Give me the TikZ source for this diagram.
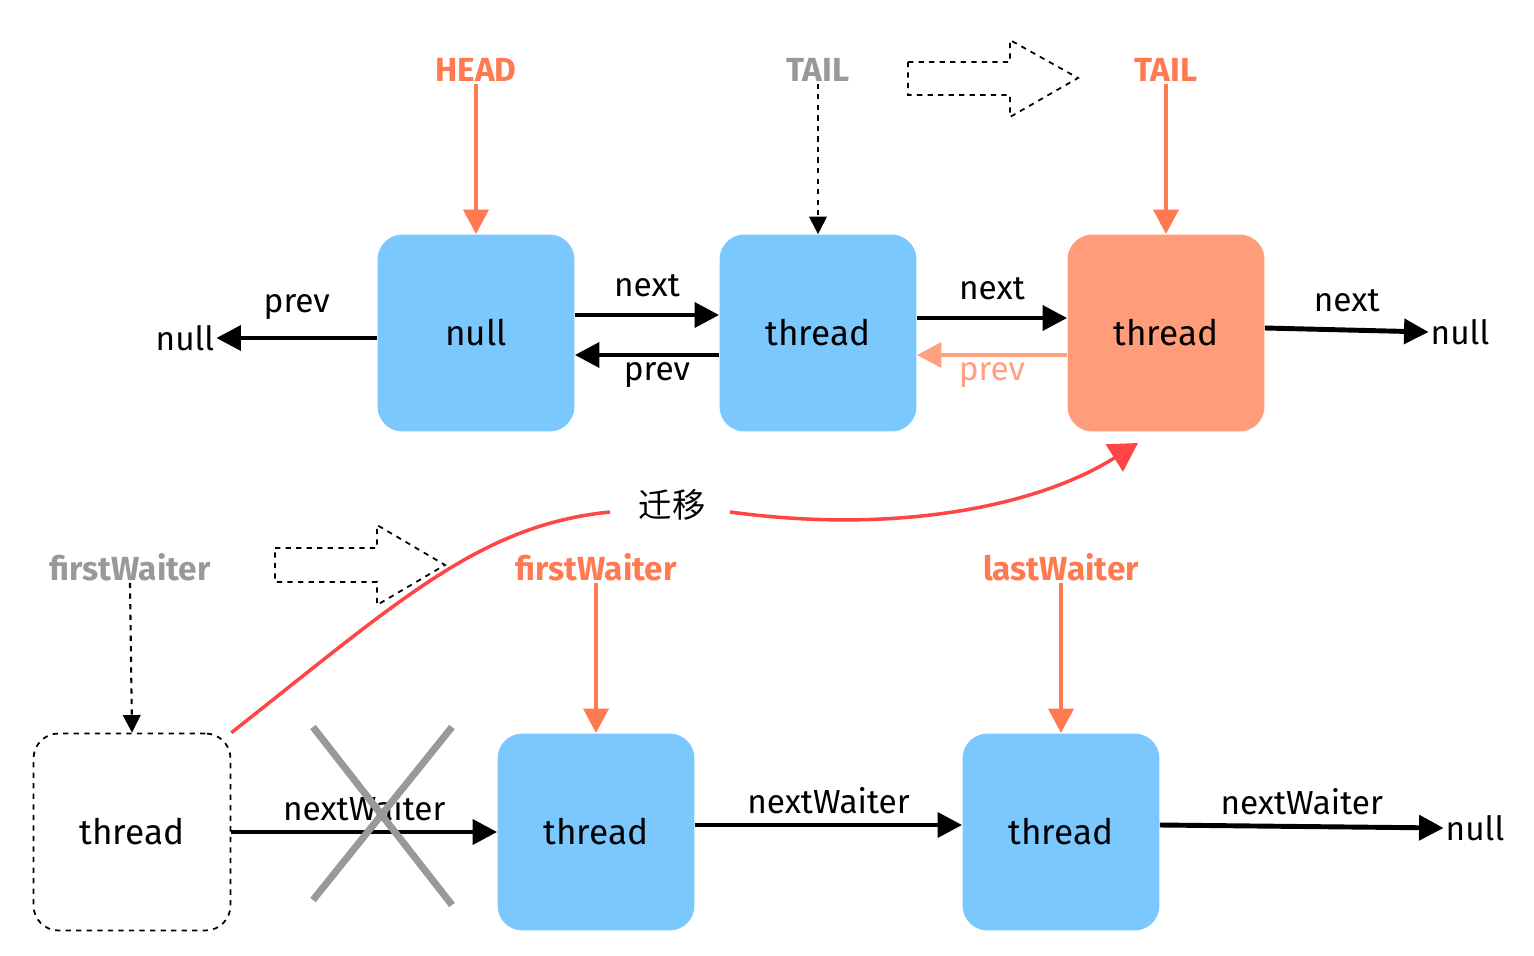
\documentclass[tikz,border=0pt]{standalone}
\usepackage{fontspec}
\setmainfont{Fira Sans}
\newfontfamily\cjk{Noto Sans CJK SC}
\usetikzlibrary{arrows.meta}
\definecolor{boxblue}{HTML}{7AC8FD}
\definecolor{boxorange}{HTML}{FF9D7A}
\definecolor{ptrorange}{HTML}{FF7A50}
\definecolor{migred}{HTML}{FF4545}
\definecolor{lightorange}{HTML}{FFA080}
\tikzset{>={Triangle[length=14pt,width=14pt]}}
\tikzset{box/.style = {rounded corners=0.5cm,minimum size=3.94cm,inner sep=0pt,font=\fontsize{20}{24}\selectfont}}
\tikzset{lbl/.style = {font=\fontsize{19}{22}\selectfont,inner sep=1pt}}
\tikzset{ptr/.style = {font=\bfseries\fontsize{19}{22}\selectfont,inner sep=1pt}}
\tikzset{link/.style = {line width=2.8pt,->}}
\tikzset{hollow/.style = {dashed,line width=1pt}}
\begin{document}
\begin{tikzpicture}[x=0.02cm,y=-0.02cm]
                    \useasboundingbox (0,0) rectangle (1534,956);
                    % upper queue
                    \node[box,fill=boxblue] (N0) at (476,333) {null};
                    \node[box,fill=boxblue] (N1) at (818,333) {thread};
                    \node[box,fill=boxorange] (N2) at (1166,333) {thread};
                    \node[lbl] (nullL) at (185,338) {null};
                    \node[lbl] (nullR) at (1460,332) {null};
                    \node[ptr,text=ptrorange] (head) at (476,70) {HEAD};
                    \node[ptr,text=gray!80] (oldtail) at (818,70) {TAIL};
                    \node[ptr,text=ptrorange] (tail) at (1166,70) {TAIL};

                    \draw[link,ptrorange] (head.south) -- (N0.north);
                    \draw[->,dashed,line width=1.2pt,>={Triangle[length=10pt,width=10pt]}] (oldtail.south) -- (N1.north);
                    \draw[link,ptrorange] (tail.south) -- (N2.north);

                    \draw[link] (N0.west |- nullL.east) -- node[lbl,above=8pt] {prev} (nullL.east);
                    \draw[link] ([yshift=0.36cm]N0.east) -- node[lbl,above=8pt] {next} ([yshift=0.36cm]N1.west);
                    \draw[link] ([yshift=-0.44cm]N1.west) -- node[lbl,below=2pt,xshift=0.2cm] {prev} ([yshift=-0.44cm]N0.east);
                    \draw[link] ([yshift=0.3cm]N1.east) -- node[lbl,above=8pt] {next} ([yshift=0.3cm]N2.west);
                    \draw[link,lightorange] ([yshift=-0.44cm]N2.west) -- node[lbl,below=2pt,text=lightorange] {prev} ([yshift=-0.44cm]N1.east);
                    \draw[link] ([yshift=0.1cm]N2.east) -- node[lbl,above=8pt] {next} (nullR.west);

                    \draw[hollow] (908,62) -- (1010,62) -- (1010,40) -- (1078,78) -- (1010,117) -- (1010,95) -- (908,95) -- cycle;

                    % condition queue
                    \node[box,draw,hollow] (W0) at (132,832) {thread};
                    \node[box,fill=boxblue] (W1) at (596,832) {thread};
                    \node[box,fill=boxblue] (W2) at (1061,832) {thread};
                    \node[lbl] (nullW) at (1475,828) {null};
                    \node[ptr,text=gray!80] (oldfirst) at (130,567) {firstWaiter};
                    \node[ptr,text=ptrorange] (first) at (596,567) {firstWaiter};
                    \node[ptr,text=ptrorange] (last) at (1061,567) {lastWaiter};

                    \draw[->,dashed,line width=1.2pt,>={Triangle[length=10pt,width=10pt]}] (oldfirst.south) -- (W0.north);
                    \draw[link,ptrorange] (first.south) -- (W1.north);
                    \draw[link,ptrorange] (last.south) -- (W2.north);

                    \draw[link] (W0.east) -- node[lbl,above=4pt] {nextWaiter} (W1.west);
                    \draw[link] ([yshift=0.14cm]W1.east) -- node[lbl,above=4pt] {nextWaiter} ([yshift=0.14cm]W2.west);
                    \draw[link] ([yshift=0.14cm]W2.east) -- node[lbl,above=4pt] {nextWaiter} (nullW.west);

                    \draw[gray!80,line width=4pt] (313,727) -- (452,905) (452,727) -- (313,900);
                    \draw[hollow] (275,548) -- (377,548) -- (377,525) -- (445,565) -- (377,605) -- (377,582) -- (275,582) -- cycle;

                    % migration
                    \node[font=\cjk\fontsize{19}{22}\selectfont] (move) at (672,505) {迁移};
                    \coordinate (mvA) at (610,512);
                    \coordinate (mvB) at (730,512);
                    \coordinate (mvC) at (1138,443);
                    \draw[migred,line width=2pt] (W0.north east) .. controls (400,600) and (480,525) .. (mvA);
                    \draw[migred,line width=2pt,->,>={Triangle[length=16pt,width=18pt]}] (mvB) .. controls (900,535) and (1040,505) .. (mvC);
                \end{tikzpicture}
\end{document}
